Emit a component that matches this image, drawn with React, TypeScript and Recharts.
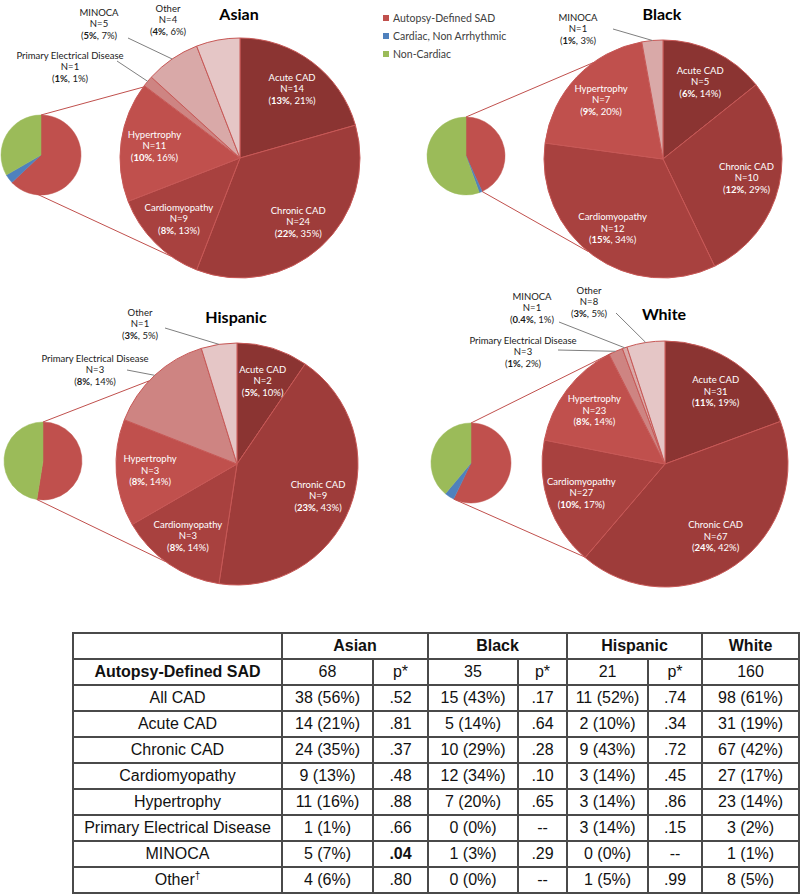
import React from "react";
import { PieChart, Pie, Cell } from "recharts";

// first-level breakdown (small pies)
const MAIN_CATEGORIES = ["Autopsy-Defined SAD", "Cardiac, Non Arrhythmic", "Non-Cardiac"];
const asianMain = [68, 4, 36];
const blackMain = [35, 1, 45];
const hispanicMain = [21, 0, 19];
const whiteMain = [160, 11, 109];

// autopsy-defined SAD breakdown (big pies)
const SUB_CATEGORIES = [
  "Acute CAD", "Chronic CAD", "Cardiomyopathy", "Hypertrophy",
  "Primary Electrical Disease", "MINOCA", "Other",
];
const asianSub = [14, 24, 9, 11, 1, 5, 4];
const blackSub = [5, 10, 12, 7, 0, 1, 0];
const hispanicSub = [2, 9, 3, 3, 3, 0, 1];
const whiteSub = [31, 67, 27, 23, 3, 1, 8];

// table
const TABLE_ROWS = [
  "All CAD", "Acute CAD", "Chronic CAD", "Cardiomyopathy", "Hypertrophy",
  "Primary Electrical Disease", "MINOCA", "Other",
];
const asianP = [".52", ".81", ".37", ".48", ".88", ".66", ".04", ".80"];
const blackP = [".17", ".64", ".28", ".10", ".65", "--", ".29", "--"];
const hispanicP = [".74", ".34", ".72", ".45", ".86", ".15", "--", ".99"];
const SIGNIFICANT = ".04";

const MAIN_COLORS = ["#C0504D", "#4F81BD", "#9BBB59"];
const SUB_COLORS = ["#8B3432", "#9E3C3A", "#A8413F", "#C0504D", "#CE8482", "#D9A9A8", "#E5C6C6"];

const PIE_FONT = "Lato, 'Open Sans', sans-serif";
const TABLE_FONT = "'Liberation Sans', Arial, sans-serif";
const RAD = Math.PI / 180;

type Outside = { dx: number; dy: number; lx?: number; ly?: number };
type Panel = {
  title: string;
  main: number[];
  sub: number[];
  small: { cx: number; cy: number; r: number };
  big: { cx: number; cy: number; r: number };
  titleY: number;
  connectors: [number, number];
  outside: Record<number, Outside>;
};

const PANELS: Panel[] = [
  {
    title: "Asian", main: asianMain, sub: asianSub,
    small: { cx: 41, cy: 155, r: 40 }, big: { cx: 240, cy: 158, r: 120 },
    titleY: 20, connectors: [143.8, 235],
    outside: {
      4: { dx: -170, dy: -91, lx: -123, ly: -97 },
      5: { dx: -141, dy: -134, lx: -112, ly: -120 },
      6: { dx: -72, dy: -138 },
    },
  },
  {
    title: "Black", main: blackMain, sub: blackSub,
    small: { cx: 466, cy: 156, r: 39 }, big: { cx: 663, cy: 159, r: 119 },
    titleY: 20, connectors: [126, 231],
    outside: {
      5: { dx: -85, dy: -130, lx: -50, ly: -130 },
    },
  },
  {
    title: "Hispanic", main: hispanicMain, sub: hispanicSub,
    small: { cx: 43, cy: 461, r: 39 }, big: { cx: 237, cy: 464, r: 121 },
    titleY: 323, connectors: [136.6, 233.8],
    outside: {
      4: { dx: -142, dy: -94, lx: -110, ly: -94 },
      6: { dx: -97, dy: -140, lx: -72, ly: -136 },
    },
  },
  {
    title: "White", main: whiteMain, sub: whiteSub,
    small: { cx: 471, cy: 463, r: 40 }, big: { cx: 665, cy: 464, r: 123 },
    titleY: 320, connectors: [115.5, 229],
    outside: {
      4: { dx: -142, dy: -112, lx: -107, ly: -114 },
      5: { dx: -133, dy: -156, lx: -106, ly: -142 },
      6: { dx: -76, dy: -162, lx: -49, ly: -151 },
    },
  },
];

const sum = (a: number[]) => a.reduce((s, v) => s + v, 0);

function fmtPct(n: number, d: number) {
  const p = (n / d) * 100;
  const r = Math.round(p);
  return r === 0 && n > 0 ? p.toFixed(1) : String(r);
}

function makeLabel(panel: Panel) {
  const total = sum(panel.main);
  const sad = panel.main[0];
  return (props: any) => {
    const { cx, cy, midAngle, outerRadius } = props;
    let i = SUB_CATEGORIES.indexOf(props.name);
    if (i < 0) i = props.index;
    const n = panel.sub[i];
    if (!n) return null;
    const out = panel.outside[i];
    const color = out ? "#1a1a1a" : "#ffffff";
    let x: number, y: number;
    let leader = null;
    if (out) {
      x = cx + out.dx;
      y = cy + out.dy;
      if (out.lx !== undefined && out.ly !== undefined) {
        const ex = cx + outerRadius * Math.cos(-midAngle * RAD);
        const ey = cy + outerRadius * Math.sin(-midAngle * RAD);
        leader = <line x1={cx + out.lx} y1={cy + out.ly} x2={ex} y2={ey} stroke="#7f7f7f" strokeWidth={1} />;
      }
    } else {
      const r = outerRadius * 0.72;
      x = cx + r * Math.cos(-midAngle * RAD);
      y = cy + r * Math.sin(-midAngle * RAD);
    }
    return (
      <g key={`lab-${panel.title}-${i}`}>
        {leader}
        <text textAnchor="middle" fontFamily={PIE_FONT} fontSize={9.5} fill={color}>
          <tspan x={x} y={y - 11.5} dy="0.35em">{SUB_CATEGORIES[i]}</tspan>
          <tspan x={x} y={y} dy="0.35em">N={n}</tspan>
          <tspan x={x} y={y + 11.5} dy="0.35em">
            (<tspan fontWeight="bold">{fmtPct(n, total)}%</tspan>, {fmtPct(n, sad)}%)
          </tspan>
        </text>
      </g>
    );
  };
}

function Charts() {
  return (
    <PieChart width={800} height={600} margin={{ top: 0, right: 0, bottom: 0, left: 0 }}>
      {PANELS.map((p) => (
        <Pie
          key={`small-${p.title}`}
          data={MAIN_CATEGORIES.map((name, i) => ({ name, value: p.main[i] }))}
          dataKey="value"
          nameKey="name"
          cx={p.small.cx}
          cy={p.small.cy}
          outerRadius={p.small.r}
          startAngle={90}
          endAngle={-270}
          isAnimationActive={false}
          labelLine={false}
        >
          {MAIN_CATEGORIES.map((c, i) => (
            <Cell key={c} fill={MAIN_COLORS[i]} stroke={MAIN_COLORS[i]} strokeWidth={0.5} />
          ))}
        </Pie>
      ))}
      {PANELS.map((p) => (
        <Pie
          key={`big-${p.title}`}
          data={SUB_CATEGORIES.map((name, i) => ({ name, value: p.sub[i] }))}
          dataKey="value"
          nameKey="name"
          cx={p.big.cx}
          cy={p.big.cy}
          outerRadius={p.big.r}
          startAngle={90}
          endAngle={-270}
          isAnimationActive={false}
          labelLine={false}
          label={makeLabel(p)}
        >
          {SUB_CATEGORIES.map((c, i) => (
            <Cell key={c} fill={SUB_COLORS[i]} stroke="#C75856" strokeWidth={1} />
          ))}
        </Pie>
      ))}
    </PieChart>
  );
}

function Overlay() {
  return (
    <svg width={800} height={600} style={{ position: "absolute", left: 0, top: 0, pointerEvents: "none" }}>
      {PANELS.map((p) => {
        const total = sum(p.main);
        const endA = (360 * p.main[0]) / total;
        const s1 = { x: p.small.cx, y: p.small.cy - p.small.r };
        const s2 = {
          x: p.small.cx + p.small.r * Math.sin(endA * RAD),
          y: p.small.cy - p.small.r * Math.cos(endA * RAD),
        };
        const [a1, a2] = p.connectors;
        const t1 = { x: p.big.cx + p.big.r * Math.cos(a1 * RAD), y: p.big.cy - p.big.r * Math.sin(a1 * RAD) };
        const t2 = { x: p.big.cx + p.big.r * Math.cos(a2 * RAD), y: p.big.cy - p.big.r * Math.sin(a2 * RAD) };
        return (
          <g key={p.title}>
            <line x1={s1.x} y1={s1.y} x2={t1.x} y2={t1.y} stroke="#C0504D" strokeWidth={1} />
            <line x1={s2.x} y1={s2.y} x2={t2.x} y2={t2.y} stroke="#C0504D" strokeWidth={1} />
            <text x={p.big.cx - 1} y={p.titleY} textAnchor="middle" fontFamily={PIE_FONT} fontWeight="bold" fontSize={16} fill="#000">
              {p.title}
            </text>
          </g>
        );
      })}
      {MAIN_CATEGORIES.map((c, i) => (
        <g key={c}>
          <rect x={383} y={18 + i * 18 - 3} width={6} height={6} fill={MAIN_COLORS[i]} />
          <text x={393} y={18 + i * 18} dy="0.35em" fontFamily={PIE_FONT} fontSize={10.5} fill="#404040">
            {c}
          </text>
        </g>
      ))}
    </svg>
  );
}

const COL_WIDTHS = [209, 91, 55, 90, 49, 81, 54, 97];

function DataTable() {
  const groups = [
    { name: "Asian", main: asianMain, sub: asianSub, p: asianP },
    { name: "Black", main: blackMain, sub: blackSub, p: blackP },
    { name: "Hispanic", main: hispanicMain, sub: hispanicSub, p: hispanicP },
    { name: "White", main: whiteMain, sub: whiteSub, p: null as string[] | null },
  ];
  const td: React.CSSProperties = {
    border: "2px solid #4a4a4a", textAlign: "center", padding: 0, whiteSpace: "nowrap",
  };
  const rowVals = (sub: number[]) => [sub[0] + sub[1], ...sub];
  return (
    <table
      style={{
        position: "absolute", left: 72, top: 632, width: 726, borderCollapse: "collapse",
        tableLayout: "fixed", fontFamily: TABLE_FONT, fontSize: 16, color: "#111",
      }}
    >
      <colgroup>
        {COL_WIDTHS.map((w, i) => <col key={i} style={{ width: w }} />)}
      </colgroup>
      <tbody>
        <tr style={{ height: 26 }}>
          <td style={td}></td>
          {groups.map((g) => (
            <td key={g.name} style={{ ...td, fontWeight: "bold" }} colSpan={g.p ? 2 : 1}>{g.name}</td>
          ))}
        </tr>
        <tr style={{ height: 26 }}>
          <td style={{ ...td, fontWeight: "bold" }}>{MAIN_CATEGORIES[0]}</td>
          {groups.map((g) => (
            <React.Fragment key={g.name}>
              <td style={td}>{g.main[0]}</td>
              {g.p && <td style={td}>p*</td>}
            </React.Fragment>
          ))}
        </tr>
        {TABLE_ROWS.map((row, r) => (
          <tr key={row} style={{ height: 26 }}>
            <td style={td}>
              {row}
              {row === "Other" && <sup style={{ fontSize: 10 }}>†</sup>}
            </td>
            {groups.map((g) => {
              const n = rowVals(g.sub)[r];
              return (
                <React.Fragment key={g.name}>
                  <td style={td}>{`${n} (${Math.round((n / g.main[0]) * 100)}%)`}</td>
                  {g.p && (
                    <td style={{ ...td, fontWeight: g.p[r] === SIGNIFICANT ? "bold" : "normal" }}>{g.p[r]}</td>
                  )}
                </React.Fragment>
              );
            })}
          </tr>
        ))}
      </tbody>
    </table>
  );
}

export default function App() {
  return (
    <div style={{ position: "absolute", left: 0, top: 0, width: 800, height: 894, background: "#fff", overflow: "hidden" }}>
      <Charts />
      <Overlay />
      <DataTable />
    </div>
  );
}
